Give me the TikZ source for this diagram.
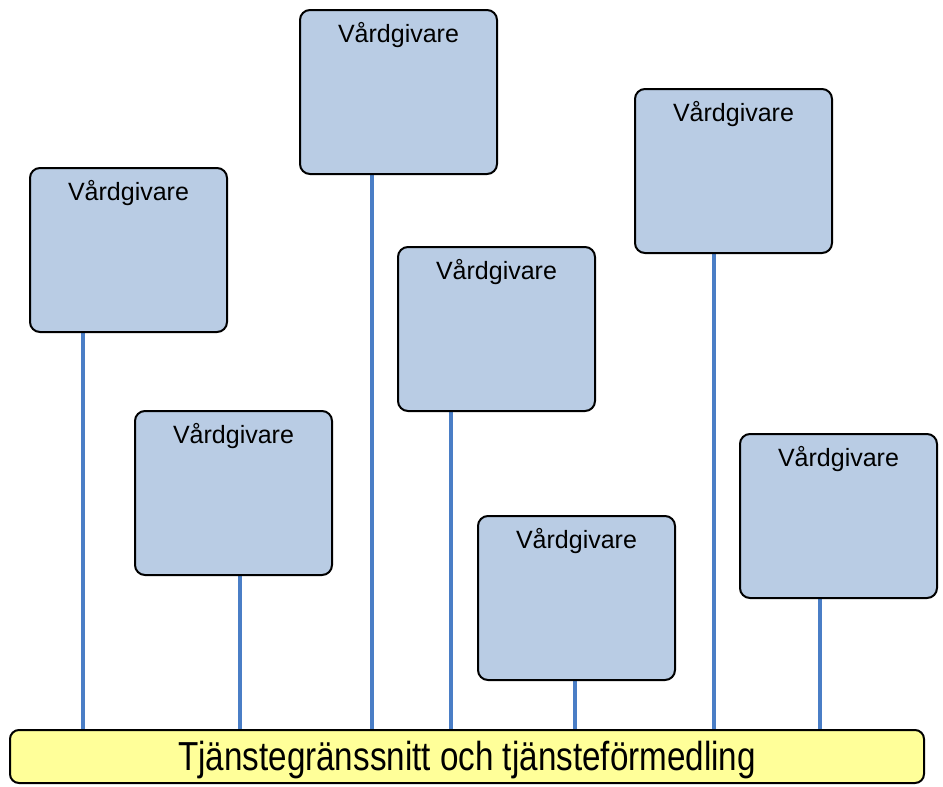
\documentclass[tikz,border=0pt]{standalone}
\usepackage{fontspec}
\usetikzlibrary{backgrounds}
\setmainfont{Liberation Sans}
\newfontfamily\barfont[FakeStretch=0.82]{Liberation Sans}
\definecolor{boxfill}{RGB}{185,204,228}
\definecolor{linkblue}{RGB}{74,126,198}
\definecolor{barfill}{RGB}{255,255,153}
\begin{document}
\begin{tikzpicture}[x=1pt,y=-1pt,
  vbox/.style={draw=black,line width=2pt,fill=boxfill,rounded corners=10pt,
    minimum width=197pt,minimum height=164pt,inner sep=0pt,outer sep=0pt,anchor=north west,
    label={[font=\fontsize{25}{30}\selectfont,anchor=base,yshift=-32pt,inner sep=0pt]north:Vårdgivare}},
  link/.style={draw=linkblue,line width=3.2pt},
  barbox/.style={draw=black,line width=2pt,fill=barfill,rounded corners=9pt,
    minimum width=914pt,minimum height=53pt,inner sep=0pt,outer sep=0pt,anchor=north west}]
\useasboundingbox (0,0) rectangle (943,787);
\node[barbox] (bar) at (10,730) {};
\node[font=\barfont\fontsize{40.5}{45}\selectfont,anchor=base,inner sep=0pt] (bartext) at (467,770) {Tjänstegränssnitt och tjänsteförmedling};
\coordinate (l1) at (83,730);
\coordinate (l2) at (372,730);
\coordinate (l3) at (240,730);
\coordinate (l4) at (451,730);
\coordinate (l5) at (714,730);
\coordinate (l6) at (575,730);
\coordinate (l7) at (820,730);
\node[vbox] (b1) at (30,168) {};
\node[vbox] (b2) at (300,10) {};
\node[vbox] (b3) at (135,411) {};
\node[vbox] (b4) at (398,247) {};
\node[vbox] (b5) at (635,89) {};
\node[vbox] (b6) at (478,516) {};
\node[vbox] (b7) at (740,434) {};
\begin{pgfonlayer}{background}
\foreach \i in {1,...,7}{
  \draw[link] (l\i |- b\i.center) -- (l\i);
}
\end{pgfonlayer}
\end{tikzpicture}
\end{document}
